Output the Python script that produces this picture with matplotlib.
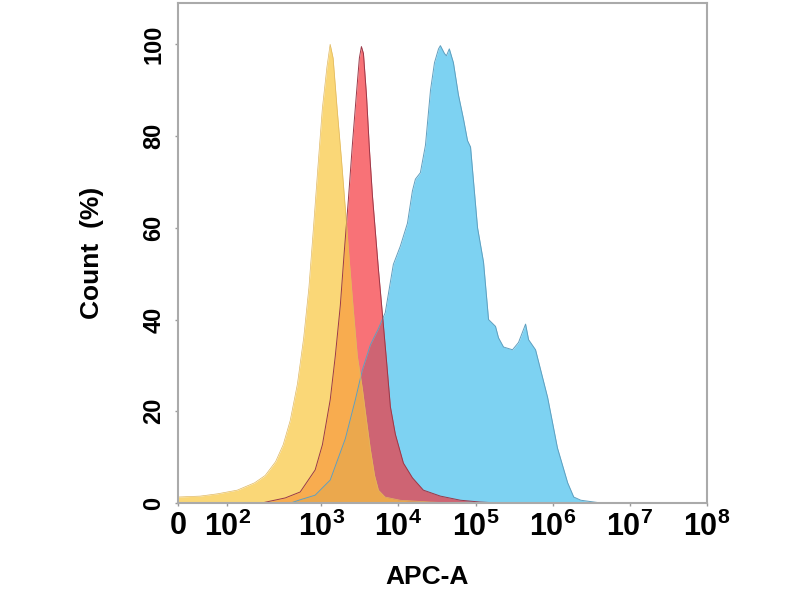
import matplotlib.pyplot as plt
import numpy as np

plt.rcParams['font.family'] = ['Liberation Sans', 'DejaVu Sans']
plt.rcParams['font.weight'] = 'bold'
plt.rcParams['mathtext.fontset'] = 'custom'
plt.rcParams['mathtext.rm'] = 'Liberation Sans:bold'
plt.rcParams['mathtext.it'] = 'Liberation Sans:bold'
plt.rcParams['mathtext.bf'] = 'Liberation Sans:bold'

# APC-A intensity (data units) and Count (%)
yellow_x = [0, 45, 80, 120, 155, 187, 255, 320, 395, 490, 590, 690, 790, 900, 1030,
            1180, 1300, 1420, 1600, 1820, 2050, 2300, 2600, 2930, 3400, 3850, 4330,
            4900, 5500, 6700, 10500, 26000, 60000]
yellow_y = [1.3, 1.5, 2.0, 2.8, 4.4, 6.0, 9.0, 12.7, 18, 26, 36, 47, 60, 73, 86,
            95, 100, 97, 86, 75, 64, 53, 42, 32, 25, 18, 11.6,
            6.0, 2.8, 1.3, 0.6, 0.2, 0]

red_x = [170, 217, 340, 532, 831, 1032, 1303, 1515, 1760, 1986, 2237, 2521, 2842,
         3111, 3306, 3511, 3843, 4202, 4594, 5022, 5490, 6200, 6993, 7845, 9100,
         11570, 15140, 21000, 34900, 63500, 115000, 200000]
red_y = [0, 0.4, 1.1, 2.4, 7.2, 12.7, 22.5, 32, 43, 55, 66, 78, 89,
         97, 99.5, 98, 89, 77, 67, 59, 51, 41, 31, 21, 15,
         8.7, 5.5, 2.8, 1.5, 0.6, 0.2, 0]

blue_x = [400, 532, 831, 1303, 2044, 2757, 3398, 4326, 5490, 6735, 8573, 10571,
          13070, 15140, 16570, 19214, 22360, 26000, 29290, 33050, 34916, 39400,
          41800, 45600, 51500, 59800, 69600, 78500, 85900, 105900, 126600, 147000,
          181000, 198000, 230000, 301000, 360000, 444000, 486000, 598000, 858000,
          1150000, 1560000, 1870000, 2310000, 4200000]
blue_y = [0, 0.7, 1.7, 5.0, 14, 22.5, 29, 34.5, 38, 41.5, 52, 56,
          61, 68, 70.6, 72, 78, 90, 96, 99, 99.7, 98,
          97.5, 99, 96, 89, 83.7, 79, 77.6, 60, 52.5, 40,
          38.5, 36, 34, 33.4, 35, 39, 35.6, 33.4, 23,
          12, 4.4, 1.3, 0.6, 0]

x_ticks = [0, 1e2, 1e3, 1e4, 1e5, 1e6, 1e7, 1e8]
x_ticklabels = ['0', '$10^{2}$', '$10^{3}$', '$10^{4}$', '$10^{5}$',
                '$10^{6}$', '$10^{7}$', '$10^{8}$']
y_ticks = [0, 20, 40, 60, 80, 100]

fig = plt.figure(figsize=(8, 6), dpi=100)
ax = fig.add_axes([0.2225, 0.1617, 0.6613, 0.8333])
ax.set_xscale('symlog', linthresh=170, linscale=0.98)

# blue at the back, red over it, yellow on top (semi-transparent)
ax.fill_between(blue_x, blue_y, color='#7dd2f2', lw=0)
ax.plot(blue_x, blue_y, color='#5f9fbf', lw=0.7)
ax.fill_between(red_x, red_y, color='#f53037', alpha=0.68, lw=0)
ax.plot(red_x, red_y, color='#9a3848', lw=0.7)
ax.fill_between(yellow_x, yellow_y, color='#f8c63e', alpha=0.7, lw=0)
ax.plot(yellow_x, yellow_y, color='#e0b860', lw=0.5)

ax.set_xlim(0, 1e8)
ax.set_ylim(0, 109)
ax.set_xticks(x_ticks)
ax.set_xticklabels(x_ticklabels, fontsize=22)
ax.set_yticks(y_ticks)
ax.set_yticklabels([str(v) for v in y_ticks], fontsize=17, rotation=90, va='center')
ax.minorticks_off()
ax.tick_params(length=2, width=1, color='#999999')
ax.tick_params(axis='x', pad=4)
ax.tick_params(axis='y', pad=7)
for s in ax.spines.values():
    s.set_color('#aaaaaa')
    s.set_linewidth(1.5)

ax.set_xlabel('APC-A', fontsize=19, fontweight='bold')
ax.xaxis.set_label_coords(0.47, -0.125)
ax.set_ylabel('Count  (%)', fontsize=19, fontweight='bold')
ax.yaxis.set_label_coords(-0.14, 0.5)

fig.savefig('out.png', dpi=100)
